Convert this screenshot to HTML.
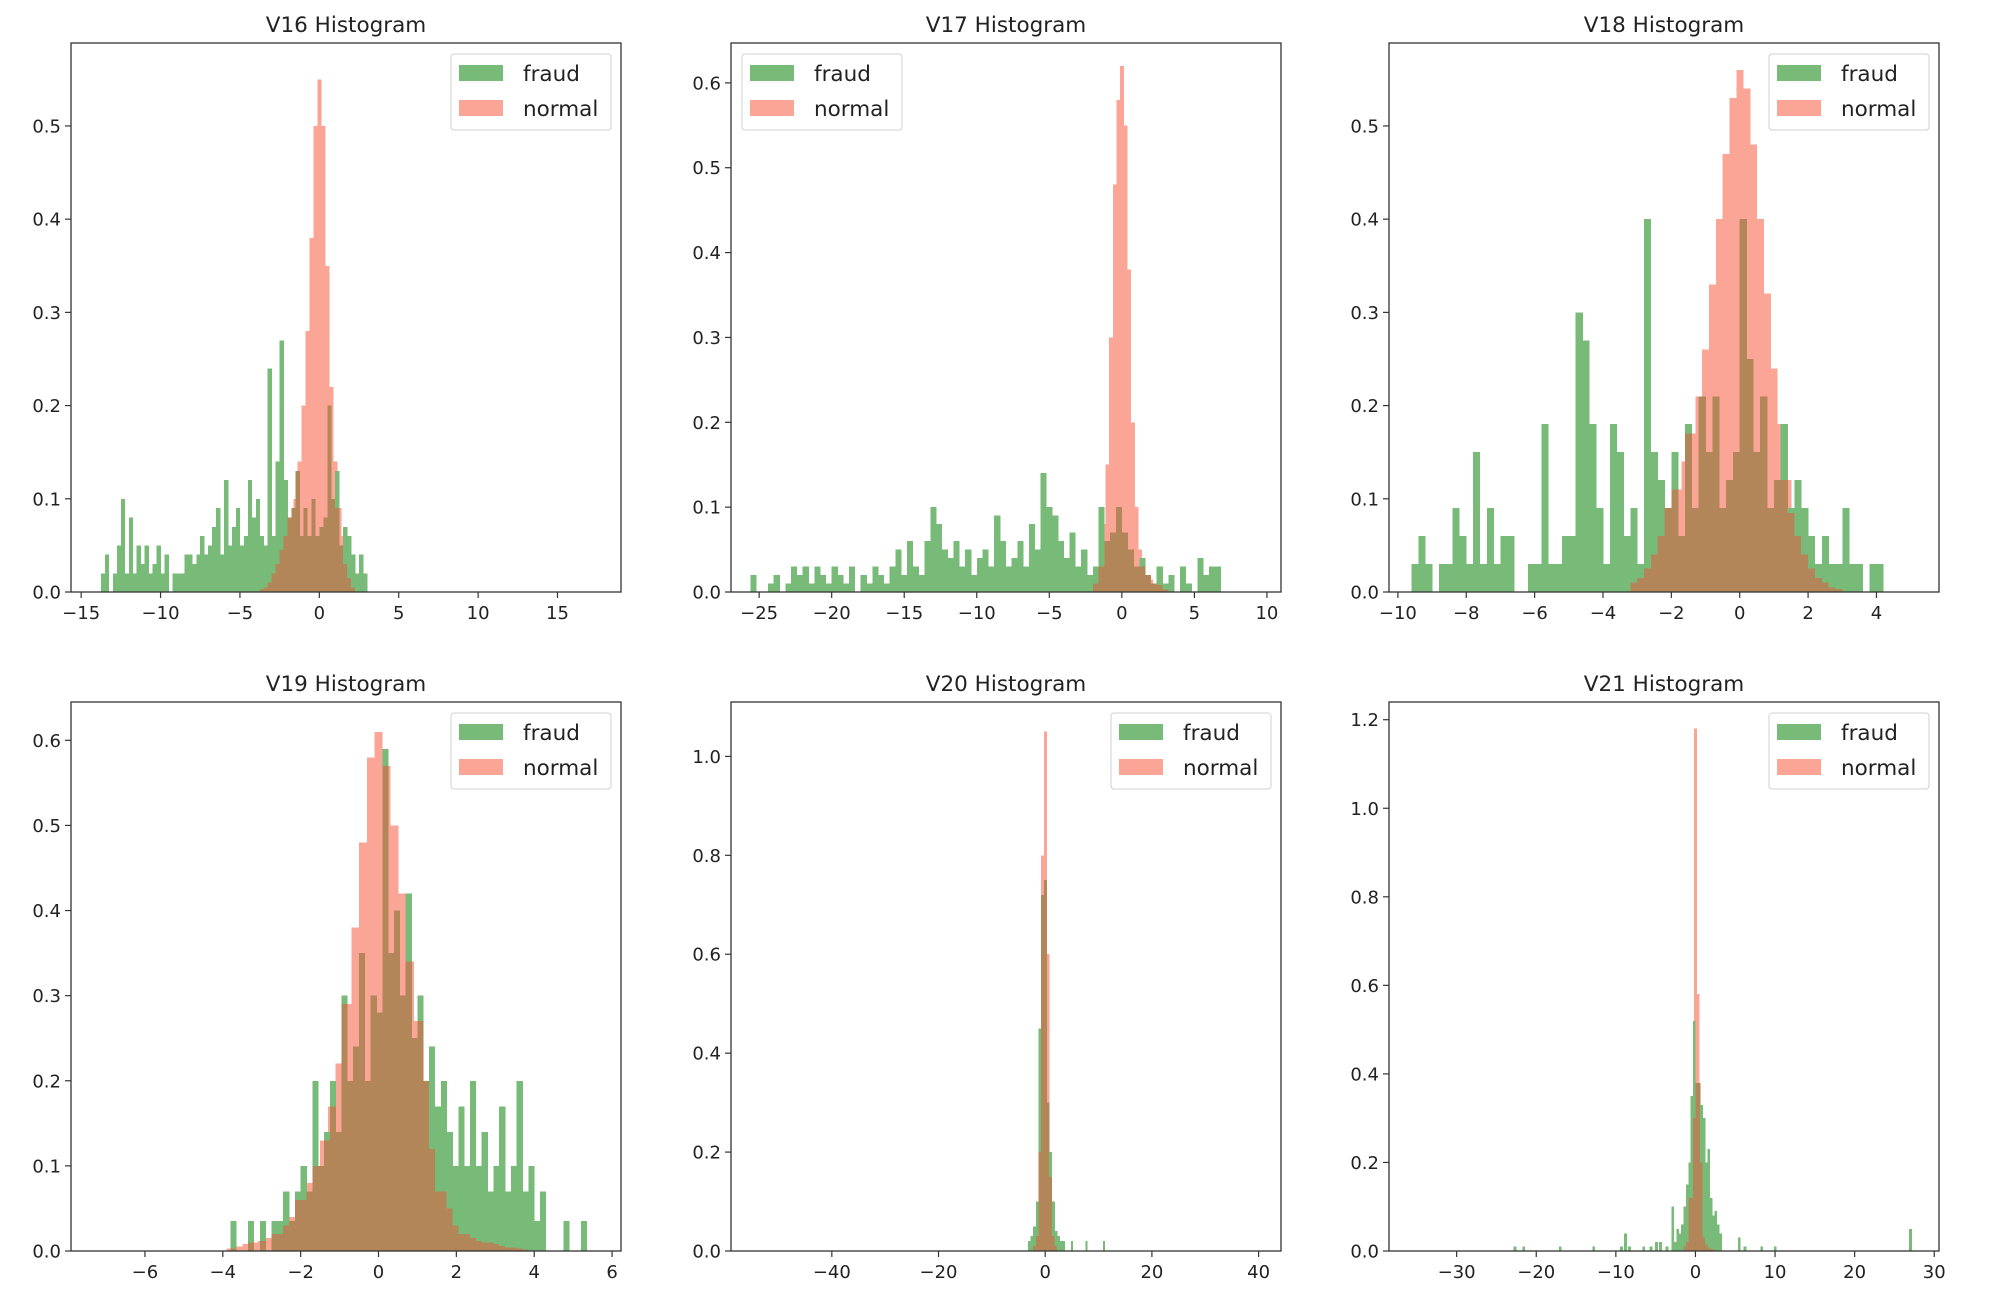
<!DOCTYPE html>
<html><head><meta charset="utf-8"><style>
html,body{margin:0;padding:0;background:#fff}
svg{display:block;font-family:"DejaVu Sans","Liberation Sans",sans-serif}
</style></head><body>
<svg id="fig" width="1998" height="1316" viewBox="0 0 1998 1316" xmlns="http://www.w3.org/2000/svg"></svg>
<script>
// ---- data ----
const titles = ["V16 Histogram","V17 Histogram","V18 Histogram","V19 Histogram","V20 Histogram","V21 Histogram"];
const xRanges = [[-15.64,19.0],[-26.94,10.97],[-10.26,5.83],[-7.9,6.23],[-58.9,44.2],[-38.5,30.6]];
const yMaxes = [0.589,0.647,0.589,0.645,1.11,1.24];
const xTicks = [[-15,-10,-5,0,5,10,15],[-25,-20,-15,-10,-5,0,5,10],[-10,-8,-6,-4,-2,0,2,4],[-6,-4,-2,0,2,4,6],[-40,-20,0,20,40],[-30,-20,-10,0,10,20,30]];
const yTicks = [[0,0.1,0.2,0.3,0.4,0.5],[0,0.1,0.2,0.3,0.4,0.5,0.6],[0,0.1,0.2,0.3,0.4,0.5],[0,0.1,0.2,0.3,0.4,0.5,0.6],[0,0.2,0.4,0.6,0.8,1.0],[0,0.2,0.4,0.6,0.8,1.0,1.2]];
const legendLeft = [false,true,false,false,false,false];

const normalStart = [-3.625,-2.125,-3.1,-3.9,-2.25,-1.65];
const normalStep = [0.25,0.25,0.2,0.2,0.5,0.3];
const normalV16 = [0.003,0.005,0.01,0.02,0.03,0.045,0.06,0.08,0.1,0.14,0.2,0.28,0.38,0.5,0.55,0.5,0.35,0.22,0.14,0.09,0.06,0.03,0.015,0.005];
const normalV17 = [0.005,0.01,0.03,0.08,0.15,0.3,0.48,0.58,0.62,0.55,0.38,0.2,0.1,0.05,0.03,0.02,0.015,0.01,0.008,0.005,0.003];
const normalV18 = [0.01,0.015,0.025,0.04,0.06,0.09,0.11,0.14,0.17,0.21,0.26,0.33,0.4,0.47,0.53,0.56,0.54,0.48,0.4,0.32,0.24,0.18,0.12,0.085,0.06,0.04,0.025,0.015,0.01,0.005,0.003];
const normalV19 = [0.003,0.005,0.008,0.01,0.012,0.015,0.02,0.03,0.04,0.06,0.08,0.1,0.13,0.17,0.22,0.29,0.38,0.48,0.58,0.61,0.57,0.5,0.42,0.34,0.27,0.2,0.12,0.07,0.05,0.03,0.02,0.015,0.012,0.01,0.008,0.006,0.004,0.003,0.002];
const normalV20 = [0.01,0.03,0.2,0.8,1.05,0.6,0.15,0.03,0.01];
const normalV21 = [0.01,0.02,0.05,0.12,0.3,1.18,0.58,0.2,0.06,0.03,0.015,0.008,0.004];

const fraudStart = [-13.75,-25.6,-9.6,-3.8,-3.25,-3.0];
const fraudStep = [0.25,0.4,0.2,0.15,0.5,0.3];
const fraudV16 = [0.02,0.04,0.0,0.02,0.05,0.1,0.02,0.08,0.02,0.05,0.03,0.05,0.02,0.03,0.05,0.02,0.04,0.0,0.02,0.02,0.02,0.04,0.04,0.03,0.04,0.06,0.04,0.05,0.07,0.09,0.04,0.12,0.05,0.07,0.09,0.05,0.06,0.12,0.08,0.1,0.06,0.05,0.24,0.06,0.14,0.27,0.12,0.08,0.09,0.13,0.06,0.09,0.06,0.1,0.06,0.07,0.08,0.2,0.1,0.13,0.05,0.07,0.06,0.04,0.02,0.04,0.02];
const fraudV17 = [0.02,0.0,0.0,0.01,0.02,0.0,0.01,0.03,0.02,0.03,0.01,0.03,0.02,0.01,0.03,0.02,0.01,0.03,0.0,0.02,0.01,0.03,0.02,0.01,0.03,0.05,0.02,0.06,0.03,0.02,0.06,0.1,0.08,0.05,0.04,0.06,0.03,0.05,0.02,0.04,0.05,0.03,0.09,0.06,0.03,0.04,0.06,0.03,0.08,0.05,0.14,0.1,0.09,0.06,0.04,0.07,0.03,0.05,0.02,0.03,0.1,0.06,0.07,0.1,0.07,0.05,0.03,0.04,0.02,0.01,0.03,0.01,0.02,0.0,0.03,0.01,0.0,0.04,0.02,0.03,0.03];
const fraudV18 = [0.03,0.06,0.03,0.0,0.03,0.03,0.09,0.06,0.03,0.15,0.03,0.09,0.03,0.06,0.06,0.0,0.0,0.03,0.03,0.18,0.03,0.03,0.06,0.06,0.3,0.27,0.18,0.09,0.03,0.18,0.15,0.06,0.09,0.03,0.4,0.15,0.12,0.09,0.15,0.06,0.18,0.09,0.21,0.15,0.21,0.09,0.12,0.15,0.4,0.25,0.15,0.21,0.09,0.12,0.18,0.09,0.12,0.09,0.06,0.03,0.06,0.03,0.03,0.09,0.03,0.03,0.0,0.03,0.03];
const fraudV19 = [0.035,0.0,0.0,0.035,0.0,0.035,0.0,0.035,0.035,0.07,0.035,0.07,0.1,0.07,0.2,0.1,0.14,0.2,0.14,0.3,0.2,0.24,0.35,0.2,0.3,0.28,0.59,0.35,0.4,0.3,0.42,0.25,0.3,0.2,0.24,0.17,0.2,0.14,0.1,0.17,0.1,0.2,0.1,0.14,0.07,0.1,0.17,0.07,0.1,0.2,0.07,0.1,0.035,0.07,0.0,0.0,0.0,0.035,0.0,0.0,0.035];
const fraudV20 = [0.02,0.03,0.05,0.1,0.45,0.72,0.75,0.3,0.2,0.1,0.04,0.03,0.02];
const fraudV21 = [0.1,0.02,0.05,0.04,0.06,0.1,0.15,0.2,0.35,0.52,0.38,0.38,0.33,0.3,0.2,0.23,0.12,0.08,0.09,0.06,0.04,0.0];
const outlierWidth = [0,0,0,0,0.3,0.3];
const outlierXV20 = [3.5,5,7.7,11];
const outlierYV20 = [0.02,0.02,0.02,0.02];
const outlierXV21 = [-22.7,-21.6,-17,-12.8,-9.3,-8.8,-8.3,-6.5,-5.6,-4.9,-4.4,-3.6,5.5,6.2,8.3,10,27];
const outlierYV21 = [0.01,0.01,0.01,0.01,0.01,0.04,0.01,0.01,0.01,0.02,0.02,0.01,0.03,0.01,0.01,0.01,0.05];

const normals = [normalV16,normalV17,normalV18,normalV19,normalV20,normalV21];
const frauds = [fraudV16,fraudV17,fraudV18,fraudV19,fraudV20,fraudV21];
const outX = [[],[],[],[],outlierXV20,outlierXV21];
const outY = [[],[],[],[],outlierYV20,outlierYV21];

// ---- layout ----
const colLeft = [71,731,1389], rowTop = [43,702], AW = 550, AH = 549;
const GREEN = "#78bb78", RED = "#fba596", BROWN = "#b38659";
const NS = "http://www.w3.org/2000/svg";
const svg = document.getElementById("fig");
function mk(tag, attrs, parent){ const e=document.createElementNS(NS,tag); for(const k in attrs) e.setAttribute(k,attrs[k]); (parent||svg).appendChild(e); return e; }
function fmtX(v){ return (v<0?"\u2212":"")+Math.abs(v); }

for(let p=0;p<6;p++){
  const L = colLeft[p%3], T = rowTop[Math.floor(p/3)];
  const [x0,x1] = xRanges[p], ym = yMaxes[p];
  const sx = v => L + (v-x0)/(x1-x0)*AW;
  const sy = v => T + AH - v/ym*AH;
  const g = mk("g",{});
  
  
  const clipId = "clip"+p;
  const cp = mk("clipPath",{id:clipId},g); mk("rect",{x:L,y:T,width:AW,height:AH},cp);
  const plot = mk("g",{"clip-path":"url(#"+clipId+")","shape-rendering":"crispEdges"},g);
  
  
  const nv = normals[p], ns = normalStart[p], nst = normalStep[p];
  const normalAt = x => { const i=Math.floor((x-ns)/nst); return (i>=0&&i<nv.length)?nv[i]:0; };
  nv.forEach((v,i)=>{ if(v<=0) return;
    const a=ns+i*nst, b=a+nst;
    const r=mk("rect",{x:sx(a),y:sy(v),width:Math.max(0.5,sx(b)-sx(a)+0.3),height:sy(0)-sy(v),fill:RED},plot);
    
    
  });
  const fv = frauds[p], fs = fraudStart[p], fst = fraudStep[p];
  const fbars = [];
  fv.forEach((v,i)=>{ fbars.push([fs+i*fst, fst, v]); });
  outX[p].forEach((x,i)=>{ fbars.push([x-outlierWidth[p]/2, outlierWidth[p], outY[p][i]]); });
  fbars.forEach(([a,w,v])=>{ if(v<=0) return;
    const wpx = Math.max(1.5, sx(a+w)-sx(a)+0.3);
    const r=mk("rect",{x:sx(a),y:sy(v),width:wpx,height:sy(0)-sy(v),fill:GREEN},plot);
    
    
    const ov = Math.min(v, normalAt(a+w/2));
    if(ov>0){
      const o=mk("rect",{x:sx(a),y:sy(ov),width:wpx,height:sy(0)-sy(ov),fill:BROWN},plot);
      
      
    }
  });
  const fr=mk("rect",{x:L,y:T,width:AW,height:AH,fill:"none",stroke:"#333",'stroke-width':1.3},g);
  
  
  const t=mk("text",{x:L+AW/2,y:T-11,'text-anchor':'middle','font-size':21.5,fill:'#222'},g);
  t.textContent = titles[p];
  
  
  xTicks[p].forEach(v=>{
    const x=sx(v);
    mk("line",{x1:x,y1:T+AH,x2:x,y2:T+AH+6,stroke:'#333','stroke-width':1.2},g);
    const lb=mk("text",{x:x,y:T+AH+27,'text-anchor':'middle','font-size':18,fill:'#222'},g);
    lb.textContent=fmtX(v);
    
    
  });
  yTicks[p].forEach(v=>{
    const y=sy(v);
    mk("line",{x1:L-6,y1:y,x2:L,y2:y,stroke:'#333','stroke-width':1.2},g);
    const lb=mk("text",{x:L-10,y:y+6.5,'text-anchor':'end','font-size':18,fill:'#222'},g);
    lb.textContent=v.toFixed(1);
    
    
  });
  const bw=160, bx = legendLeft[p] ? L+11 : L+AW-10-bw, by=T+11;
  const lg=mk("g",{},g);
  
  
  mk("rect",{x:bx,y:by,width:bw,height:76,rx:3,fill:'#fff','fill-opacity':0.8,stroke:'#d0d0d0','stroke-width':1},lg);
  [["fraud",GREEN],["normal",RED]].forEach(([name,c],k)=>{
    const pr=mk("rect",{x:bx+8,y:by+11+k*35,width:44,height:16,fill:c},lg);
    
    
    const tx=mk("text",{x:bx+72,y:by+27+k*35,'font-size':21.5,fill:'#222'},lg);
    tx.textContent=name;
    
    
  });
}
</script>
</body></html>
